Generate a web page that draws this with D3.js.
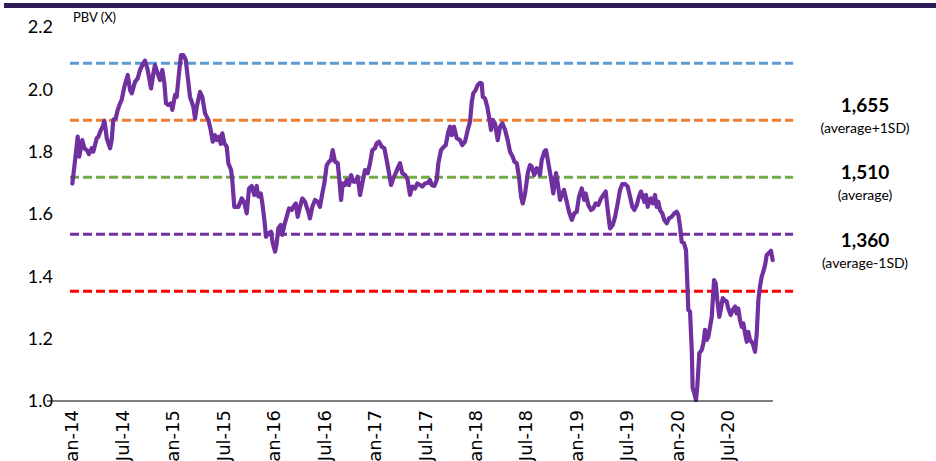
<!DOCTYPE html>
<html>
<head>
<meta charset="utf-8">
<script src="https://cdn.jsdelivr.net/npm/d3@7"></script>
<style>
  html, body { margin: 0; padding: 0; background: #ffffff; }
  svg { display: block; }
</style>
</head>
<body>
<svg id="chart" width="936" height="461"></svg>
<script>
// Weekly PBV (x), decimal-year dates
const dates = [
  2014.003,2014.023,2014.056,2014.072,2014.102,2014.122,2014.146,2014.168,2014.195,2014.211,
  2014.245,2014.261,2014.287,2014.304,2014.320,2014.334,2014.344,2014.377,2014.393,2014.409,
  2014.433,2014.453,2014.476,2014.492,2014.518,2014.552,2014.575,2014.592,2014.624,2014.651,
  2014.674,2014.697,2014.723,2014.750,2014.783,2014.806,2014.822,2014.849,2014.872,2014.895,
  2014.915,2014.931,2014.954,2014.981,2014.994,2015.021,2015.037,2015.063,2015.080,2015.103,
  2015.127,2015.146,2015.169,2015.202,2015.219,2015.236,2015.268,2015.291,2015.318,2015.351,
  2015.374,2015.394,2015.417,2015.434,2015.457,2015.473,2015.489,2015.509,2015.533,2015.549,
  2015.576,2015.588,2015.608,2015.648,2015.682,2015.704,2015.731,2015.754,2015.781,2015.806,
  2015.830,2015.846,2015.870,2015.886,2015.906,2015.922,2015.945,2015.972,2015.989,2016.012,
  2016.028,2016.044,2016.068,2016.084,2016.104,2016.127,2016.150,2016.177,2016.193,2016.217,
  2016.236,2016.259,2016.282,2016.309,2016.341,2016.358,2016.381,2016.408,2016.435,2016.457,
  2016.480,2016.500,2016.524,2016.547,2016.566,2016.583,2016.606,2016.633,2016.649,2016.666,
  2016.682,2016.705,2016.722,2016.745,2016.765,2016.787,2016.811,2016.831,2016.854,2016.877,
  2016.903,2016.930,2016.953,2016.976,2017.002,2017.019,2017.042,2017.069,2017.095,2017.118,
  2017.141,2017.161,2017.184,2017.208,2017.233,2017.250,2017.273,2017.300,2017.326,2017.349,
  2017.372,2017.399,2017.422,2017.448,2017.471,2017.498,2017.525,2017.547,2017.564,2017.590,
  2017.614,2017.630,2017.656,2017.679,2017.703,2017.729,2017.746,2017.762,2017.785,2017.812,
  2017.845,2017.867,2017.894,2017.921,2017.944,2017.961,2017.976,2018.000,2018.020,2018.043,
  2018.060,2018.070,2018.092,2018.115,2018.135,2018.152,2018.169,2018.191,2018.218,2018.241,
  2018.264,2018.291,2018.317,2018.340,2018.367,2018.383,2018.407,2018.429,2018.449,2018.466,
  2018.489,2018.516,2018.538,2018.555,2018.581,2018.605,2018.621,2018.637,2018.654,2018.680,
  2018.697,2018.720,2018.746,2018.769,2018.786,2018.796,2018.813,2018.836,2018.858,2018.875,
  2018.902,2018.925,2018.952,2018.977,2019.001,2019.024,2019.051,2019.076,2019.090,2019.116,
  2019.143,2019.166,2019.189,2019.215,2019.242,2019.265,2019.288,2019.308,2019.331,2019.358,
  2019.381,2019.407,2019.430,2019.453,2019.480,2019.506,2019.529,2019.552,2019.572,2019.596,
  2019.618,2019.638,2019.655,2019.671,2019.688,2019.705,2019.720,2019.737,2019.754,2019.777,
  2019.794,2019.810,2019.826,2019.849,2019.869,2019.893,2019.916,2019.942,2019.968,2019.992,
  2020.008,2020.025,2020.041,2020.064,2020.084,2020.097,2020.107,2020.124,2020.141,2020.150,
  2020.166,2020.183,2020.196,2020.216,2020.240,2020.256,2020.272,2020.289,2020.305,2020.322,
  2020.339,2020.362,2020.378,2020.394,2020.414,2020.428,2020.448,2020.464,2020.487,2020.503,
  2020.527,2020.547,2020.570,2020.586,2020.602,2020.619,2020.636,2020.652,2020.669,2020.686,
  2020.701,2020.718,2020.745,2020.768,2020.785,2020.801,2020.817,2020.834,2020.850,2020.867,
  2020.884,2020.910,2020.926,2020.943
];

const pbv = [
  1.698,1.752,1.848,1.784,1.837,1.811,1.805,1.792,1.811,1.800,
  1.843,1.848,1.870,1.880,1.899,1.870,1.843,1.811,1.837,1.902,
  1.907,1.934,1.955,1.966,2.008,2.046,1.998,1.987,2.024,2.035,
  2.062,2.078,2.092,2.062,2.003,2.051,2.078,2.051,2.030,2.062,
  2.019,1.955,1.950,1.955,1.934,1.982,1.976,2.062,2.110,2.110,
  2.094,2.041,1.976,1.944,1.907,1.944,1.992,1.976,1.923,1.902,
  1.870,1.832,1.853,1.837,1.848,1.825,1.859,1.827,1.816,1.763,
  1.741,1.709,1.623,1.623,1.650,1.639,1.602,1.682,1.690,1.661,
  1.690,1.656,1.666,1.634,1.581,1.527,1.538,1.543,1.506,1.479,
  1.506,1.554,1.565,1.533,1.565,1.591,1.618,1.613,1.623,1.634,
  1.591,1.623,1.650,1.639,1.607,1.586,1.623,1.645,1.639,1.623,
  1.666,1.698,1.757,1.768,1.773,1.805,1.768,1.763,1.709,1.645,
  1.698,1.693,1.709,1.693,1.725,1.704,1.704,1.720,1.661,1.698,
  1.741,1.731,1.763,1.805,1.811,1.827,1.832,1.816,1.811,1.773,
  1.731,1.693,1.715,1.731,1.752,1.763,1.731,1.725,1.709,1.661,
  1.688,1.682,1.698,1.693,1.688,1.698,1.700,1.709,1.693,1.690,
  1.709,1.763,1.805,1.814,1.821,1.864,1.880,1.853,1.880,1.843,
  1.837,1.821,1.832,1.870,1.896,1.960,1.987,1.998,2.014,2.021,
  2.019,1.976,1.971,1.944,1.907,1.870,1.902,1.891,1.837,1.880,
  1.891,1.870,1.837,1.800,1.784,1.768,1.763,1.720,1.656,1.634,
  1.666,1.731,1.757,1.752,1.725,1.747,1.741,1.725,1.773,1.800,
  1.805,1.763,1.715,1.666,1.709,1.731,1.698,1.645,1.666,1.677,
  1.639,1.607,1.581,1.602,1.607,1.656,1.682,1.645,1.666,1.629,
  1.613,1.618,1.634,1.629,1.650,1.661,1.672,1.613,1.554,1.565,
  1.591,1.634,1.677,1.696,1.696,1.688,1.656,1.623,1.613,1.629,
  1.656,1.672,1.656,1.639,1.661,1.623,1.645,1.650,1.634,1.661,
  1.623,1.639,1.613,1.602,1.581,1.570,1.586,1.591,1.602,1.607,
  1.597,1.559,1.511,1.506,1.484,1.378,1.292,1.287,1.164,1.041,
  1.025,1.003,1.046,1.153,1.164,1.185,1.228,1.196,1.206,1.238,
  1.270,1.388,1.378,1.324,1.270,1.292,1.330,1.324,1.319,1.297,
  1.276,1.292,1.303,1.281,1.297,1.260,1.238,1.249,1.217,1.190,
  1.222,1.196,1.185,1.158,1.217,1.324,1.367,1.399,1.415,1.436,
  1.468,1.476,1.482,1.452
];

// Reference levels: +2SD, +1SD, average, -1SD, -2SD
const levelValues = [2.084, 1.901, 1.718, 1.535, 1.352];
const levelColors = ["#5b9bd5", "#ed7d31", "#70ad47", "#7030a0", "#ff0000"];

// Axis ticks
const yTicks = [1.0, 1.2, 1.4, 1.6, 1.8, 2.0, 2.2];
const xTickDates = [2014, 2014.5, 2015, 2015.5, 2016, 2016.5, 2017, 2017.5, 2018, 2018.5, 2019, 2019.5, 2020, 2020.5];
const xTickLabels = ["Jan-14","Jul-14","Jan-15","Jul-15","Jan-16","Jul-16","Jan-17","Jul-17","Jan-18","Jul-18","Jan-19","Jul-19","Jan-20","Jul-20"];

// Index levels at each band
const bandValues = ["1,655", "1,510", "1,360"];
const bandNotes = ["(average+1SD)", "(average)", "(average-1SD)"];

const svg = d3.select("#chart");

// thin title strip across the top
svg.append("rect")
  .attr("x", 4).attr("y", 3).attr("width", 932).attr("height", 5)
  .attr("fill", "#2f1b55");

const x = d3.scaleLinear().domain([2013.752, 2020.946]).range([47, 773]);
const y = d3.scaleLinear().domain([1.0, 2.2]).range([401, 27]);

// Reference dashed levels
svg.append("g").selectAll("line")
  .data(levelValues)
  .join("line")
  .attr("x1", x(2013.98))
  .attr("x2", x(2021.145))
  .attr("y1", d => y(d))
  .attr("y2", d => y(d))
  .attr("stroke", (d, i) => levelColors[i])
  .attr("stroke-width", 3)
  .attr("stroke-dasharray", "9,4");

// PBV line
const series = dates.map((d, i) => [d, pbv[i]]);
svg.append("path")
  .datum(series)
  .attr("fill", "none")
  .attr("stroke", "#7030a0")
  .attr("stroke-width", 4.2)
  .attr("stroke-linejoin", "round")
  .attr("stroke-linecap", "round")
  .attr("d", d3.line().x(d => x(d[0])).y(d => y(d[1])));

// Bottom axis line
svg.append("line")
  .attr("x1", x.range()[0]).attr("x2", x.range()[1])
  .attr("y1", y(1.0)).attr("y2", y(1.0))
  .attr("stroke", "#000").attr("stroke-width", 1.2);

// Y tick labels
svg.append("g").selectAll("text")
  .data(yTicks)
  .join("text")
  .attr("x", 53)
  .attr("y", d => y(d))
  .attr("dy", "0.35em")
  .attr("text-anchor", "end")
  .attr("font-family", "Lato, 'Open Sans', sans-serif")
  .attr("font-size", 18)
  .attr("fill", "#000")
  .text(d => d.toFixed(1));

// Y axis title
svg.append("text")
  .attr("x", 73).attr("y", 22)
  .attr("font-family", "Lato, 'Open Sans', sans-serif")
  .attr("font-size", 13)
  .attr("fill", "#000")
  .text("PBV (X)");

// X tick labels, rotated
svg.append("g").selectAll("text")
  .data(xTickDates)
  .join("text")
  .attr("transform", d => `translate(${x(d)},410) rotate(-90)`)
  .attr("dy", "0.35em")
  .attr("text-anchor", "end")
  .attr("font-family", "'DejaVu Sans', Verdana, sans-serif")
  .attr("font-size", 18)
  .attr("fill", "#000")
  .text((d, i) => xTickLabels[i]);

// Band annotations on the right
const noteG = svg.append("g").attr("font-family", "Lato, 'Open Sans', sans-serif").attr("text-anchor", "middle");
const noteTop = [111.5, 178.5, 246.5];
bandValues.forEach((v, i) => {
  noteG.append("text")
    .attr("x", 865).attr("y", noteTop[i])
    .attr("font-size", 19).attr("font-weight", "bold")
    .attr("fill", "#000")
    .text(v);
  noteG.append("text")
    .attr("x", 865).attr("y", noteTop[i] + 21)
    .attr("font-size", 14)
    .attr("fill", "#000")
    .text(bandNotes[i]);
});
</script>
</body>
</html>
